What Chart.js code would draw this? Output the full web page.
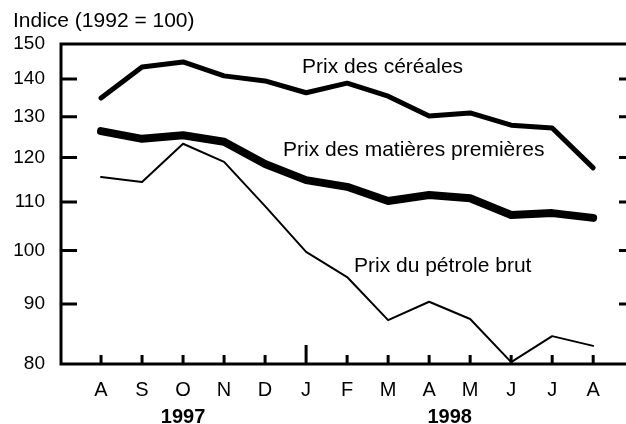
<!DOCTYPE html>
<html><head><meta charset="utf-8">
<script src="https://cdn.jsdelivr.net/npm/chart.js@4/dist/chart.umd.min.js"></script>
<style>html,body{margin:0;padding:0;background:#fff;}#w{width:626px;height:424px;position:relative;}</style>
</head><body><div id="w"><canvas id="c" width="626" height="424"></canvas></div>
<script>
const months = ['A','S','O','N','D','J','F','M','A','M','J','J','A'];
const cereales = [134.9,143.4,144.8,140.9,139.5,136.3,138.9,135.4,130.2,131.0,127.9,127.2,117.6];
const matieres = [126.4,124.5,125.4,123.8,118.5,114.8,113.3,110.2,111.5,110.8,107.2,107.6,106.6];
const petrole = [115.5,114.4,123.3,119.0,109.1,99.7,94.9,87.2,90.4,87.4,80.3,84.5,82.9];
const yTicks = [80,90,100,110,120,130,140,150];
const years = ['1997','1998'];
const seriesNames = ['Prix des céréales','Prix des matières premières','Prix du pétrole brut'];
const title = 'Indice (1992 = 100)';

const FONT = '"Liberation Sans", Arial, sans-serif';
const toPts = arr => arr.map((v,i)=>({x:i,y:v}));

const deco = {
  id:'deco',
  afterDraw(chart){
    const ctx = chart.ctx, a = chart.chartArea;
    const xs = chart.scales.x, ys = chart.scales.y;
    ctx.save();
    ctx.strokeStyle='#000'; ctx.lineCap='butt';
    ctx.lineWidth=3;
    ctx.beginPath();
    ctx.moveTo(a.left, a.top); ctx.lineTo(a.right, a.top);
    ctx.moveTo(a.left, a.top-1.5); ctx.lineTo(a.left, a.bottom+1.5);
    ctx.moveTo(a.left, a.bottom); ctx.lineTo(a.right, a.bottom);
    ctx.stroke();
    yTicks.forEach(v=>{
      if(v===80||v===150) return;
      const y = ys.getPixelForValue(v);
      ctx.beginPath();
      ctx.moveTo(a.left, y); ctx.lineTo(a.left+16, y);
      ctx.moveTo(a.right-7, y); ctx.lineTo(a.right, y);
      ctx.stroke();
    });
    months.forEach((m,i)=>{
      const x = xs.getPixelForValue(i);
      const len = (i===5)?19:9;
      ctx.beginPath();
      ctx.moveTo(x, a.bottom); ctx.lineTo(x, a.bottom-len);
      ctx.stroke();
    });
    ctx.fillStyle='#000';
    ctx.textBaseline='alphabetic';
    ctx.textAlign='left';
    ctx.font = '21px '+FONT;
    ctx.fillText(title, 13, 27);
    ctx.fillText(seriesNames[0], 302, 73);
    ctx.fillText(seriesNames[1], 283, 156);
    ctx.fillText(seriesNames[2], 354, 272);
    ctx.font = 'bold 20px '+FONT;
    ctx.textAlign='center';
    ctx.fillText(years[0], xs.getPixelForValue(2), 423);
    ctx.fillText(years[1], xs.getPixelForValue(8.5), 423);
    ctx.restore();
  }
};

const ds = (label, data, w) => ({
  label, data: toPts(data), borderColor:'#000', backgroundColor:'#000',
  borderWidth:w, pointRadius:0, tension:0, fill:false,
  borderJoinStyle:'round', borderCapStyle:'round'
});

new Chart(document.getElementById('c'), {
  type:'line',
  data:{ datasets:[ ds(seriesNames[0], cereales, 5), ds(seriesNames[1], matieres, 8), ds(seriesNames[2], petrole, 2) ] },
  options:{
    responsive:false, animation:false, devicePixelRatio:1,
    clip:false,
    layout:{ padding:{ top:44, right:0, left:0, bottom:0 } },
    plugins:{ legend:{display:false}, tooltip:{enabled:false} },
    scales:{
      x:{
        type:'linear', min:-0.976, max:12.8,
        grid:{display:false, drawTicks:false}, border:{display:false},
        afterBuildTicks: s => { s.ticks = months.map((m,i)=>({value:i})); },
        afterFit: s => { s.height = 60; },
        ticks:{ autoSkip:false, maxRotation:0, padding:14, color:'#000',
          font:{ family:FONT, size:20 },
          callback: v => months[v] }
      },
      y:{
        type:'logarithmic', min:80, max:150,
        grid:{display:false, drawTicks:false}, border:{display:false},
        afterBuildTicks: s => { s.ticks = yTicks.map(v=>({value:v})); },
        afterFit: s => { s.width = 61; },
        ticks:{ padding:16, color:'#000', font:{ family:FONT, size:19 },
          callback: v => String(v) }
      }
    }
  },
  plugins:[deco]
});
</script>
</body></html>
